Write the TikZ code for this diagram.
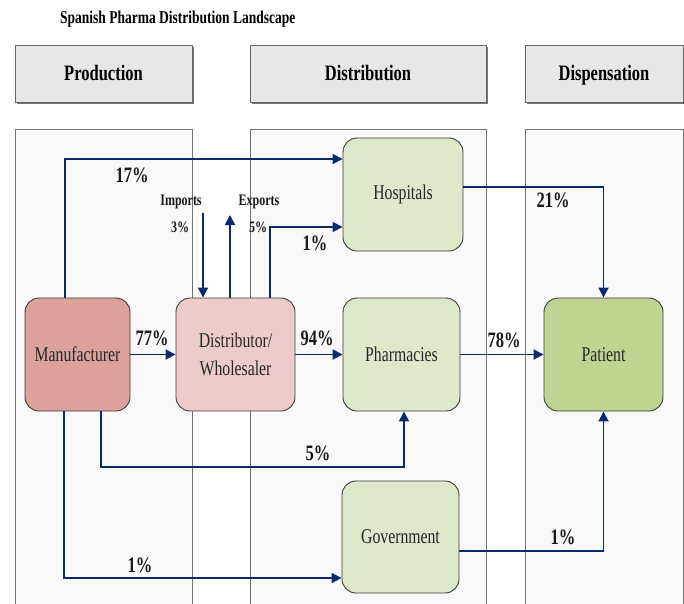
\documentclass[tikz,border=0pt]{standalone}
\usepackage{fontspec}
\setmainfont[FakeStretch=0.75]{Liberation Serif}
\usetikzlibrary{arrows.meta}
\definecolor{navy}{HTML}{0B2A6B}
\definecolor{mfrfill}{HTML}{DBA29C}
\definecolor{distfill}{HTML}{EDCBCA}
\definecolor{greenfill}{HTML}{DEE8CB}
\definecolor{patfill}{HTML}{C1D393}
\definecolor{lanefill}{HTML}{F9F9F9}
\definecolor{headfill}{HTML}{E7E7E7}
\definecolor{boxline}{HTML}{3A3A3A}
\tikzset{
  flowbox/.style={draw=boxline, line width=0.9pt, rounded corners=14pt, inner sep=2pt,
    align=center, text=black!85, font=\fontsize{21}{28}\selectfont},
  flow/.style={draw=navy, line width=1.8pt, -{Triangle[length=10pt,width=10pt]}},
  pct/.style={font=\bfseries\fontsize{22}{24}\selectfont, text=black!90, inner sep=0pt},
  small/.style={font=\bfseries\fontsize{16}{18}\selectfont, text=black!90, inner sep=0pt},
  lane/.style={fill=lanefill, draw=black!55, line width=0.9pt},
  head/.style={fill=headfill, draw=black!60, line width=1pt},
  headtext/.style={font=\bfseries\fontsize{22}{24}\selectfont, inner sep=0pt, anchor=base}
}
\begin{document}
\begin{tikzpicture}[x=1pt,y=-1pt]
\useasboundingbox (0,0) rectangle (684,603);
\fill[white] (0,0) rectangle (684,603);
% title
\node[anchor=west, font=\bfseries\fontsize{18}{20}\selectfont, inner sep=0pt] (title) at (60,19) {Spanish Pharma Distribution Landscape};
% headers
\fill[black!55] (16.5,46.5) rectangle (193.5,103.5);
\draw[head] (15,45) rectangle (192,102);
\node[headtext] (hprod) at (103.5,80.5) {Production};
\fill[black!55] (251.5,46.5) rectangle (487.5,103.5);
\draw[head] (250,45) rectangle (486,102);
\node[headtext] (hdist) at (368,80.5) {Distribution};
\fill[black!55] (526.5,46.5) rectangle (684.5,103.5);
\draw[head] (525,45) rectangle (683,102);
\node[headtext] (hdisp) at (604,80.5) {Dispensation};
% lanes
\draw[lane] (15,615) -- (15,129) -- (192,129) -- (192,615);
\draw[lane] (250,615) -- (250,129) -- (486,129) -- (486,615);
\draw[lane] (525,615) -- (525,129) -- (683,129) -- (683,615);
% nodes
\node[flowbox, fill=mfrfill, minimum width=105pt, minimum height=113pt] (mfr) at (77.5,354.5) {Manufacturer};
\node[flowbox, fill=distfill, minimum width=119pt, minimum height=113pt] (dist) at (235.5,354.5) {Distributor/\\Wholesaler};
\node[flowbox, fill=greenfill, minimum width=120pt, minimum height=113pt] (hosp) at (403,194.5) {Hospitals};
\node[flowbox, fill=greenfill, minimum width=117pt, minimum height=113pt] (pharm) at (401.5,354.5) {Pharmacies};
\node[flowbox, fill=greenfill, minimum width=117pt, minimum height=112pt] (gov) at (400.5,537) {Government};
\node[flowbox, fill=patfill, minimum width=119pt, minimum height=113pt] (pat) at (603.5,354.5) {Patient};
% helper coordinates
\coordinate (c17) at (65,159);
\coordinate (imp) at (203,213);
\coordinate (exp) at (230,215);
\coordinate (h1) at (270,227);
\coordinate (h21) at (603.5,187);
\coordinate (m5) at (101,467);
\coordinate (p5) at (404,467);
\coordinate (g1) at (64,578);
\coordinate (gp) at (603.5,551);
% connectors
\draw[flow] (mfr.north -| c17) |- (hosp.west |- c17);
\draw[flow] (imp) -- (dist.north -| imp);
\draw[flow] (dist.north -| exp) -- (exp);
\draw[flow] (dist.north -| h1) |- (hosp.west |- h1);
\draw[flow] (mfr.east) -- (dist.west);
\draw[flow] (dist.east) -- (pharm.west);
\draw[flow] (pharm.east) -- (pat.west);
\draw[flow] (hosp.east |- h21) -| (pat.north);
\draw[flow] (mfr.south -| m5) -- (m5) -- (p5) -- (pharm.south -| p5);
\draw[flow] (mfr.south -| g1) |- (gov.west |- g1);
\draw[flow] (gov.east |- gp) -| (pat.south);
% labels
\node[pct] (l17) at (132,175) {17\%};
\node[small] (limp) at (181,202) {Imports};
\node[small] (limp3) at (180,227) {3\%};
\node[small] (lexp) at (259,202) {Exports};
\node[small] (lexp5) at (258,227) {5\%};
\node[pct] (lh1) at (315,243) {1\%};
\node[pct] (l77) at (152,338) {77\%};
\node[pct] (l94) at (317,338) {94\%};
\node[pct] (l78) at (504,340) {78\%};
\node[pct] (l21) at (553,200) {21\%};
\node[pct] (l5) at (318,453) {5\%};
\node[pct] (lg1) at (140,565) {1\%};
\node[pct] (lgp) at (563,537) {1\%};
\end{tikzpicture}
\end{document}
